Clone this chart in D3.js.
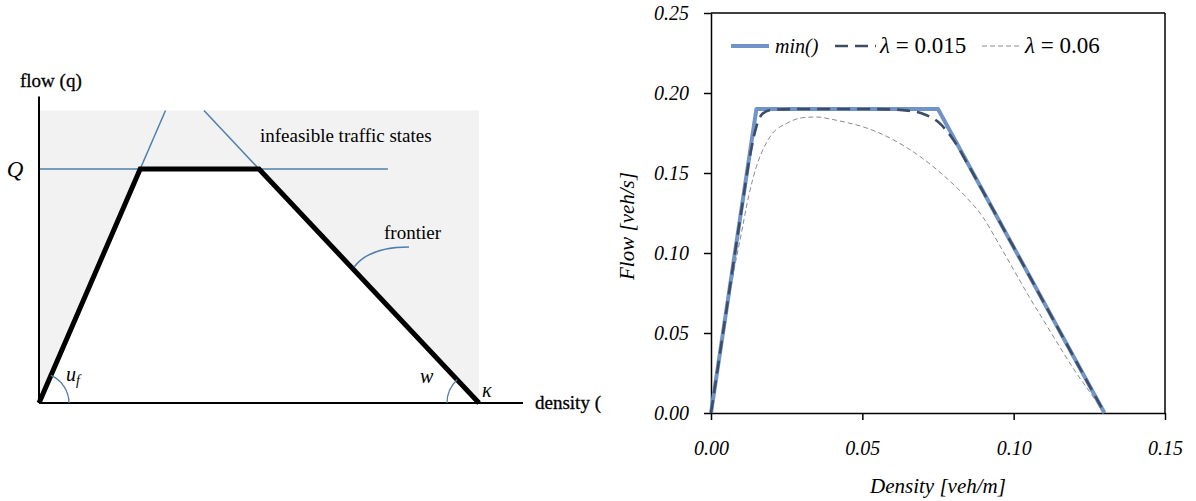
<!DOCTYPE html>
<html><head><meta charset="utf-8">
<script src="https://cdn.jsdelivr.net/npm/d3@7"></script>
<style>body{margin:0;background:#fff}svg{display:block}</style>
</head><body>
<script>
// ---- Left diagram (conceptual fundamental diagram) ----
const diagDensity = [0, 0.23, 0.5, 1.0];   // 0, critical start, critical end, jam density (kappa)
const diagFlow    = [0, 1.0, 1.0, 0];      // Q normalised to 1
const diagLabels  = {flowAxis: "flow (q)", densityAxis: "density (", Q: "Q", infeasible: "infeasible traffic states", frontier: "frontier", w: "w", kappa: "κ"};

// ---- Right chart data ----
const densMin = [0, 0.015, 0.075, 0.13];
const flowMin = [0, 0.19, 0.19, 0];
const dens015 = [0, 0.005, 0.01, 0.013, 0.015, 0.017, 0.02, 0.03, 0.05, 0.06, 0.065, 0.07, 0.075, 0.08, 0.085, 0.09, 0.1, 0.11, 0.12, 0.13];
const flow015 = [0, 0.063, 0.126, 0.162, 0.179, 0.187, 0.1895, 0.19, 0.19, 0.1897, 0.189, 0.187, 0.182, 0.171, 0.155, 0.138, 0.1036, 0.069, 0.0345, 0];
const dens06 = [0, 0.0025, 0.005, 0.0075, 0.01, 0.0125, 0.015, 0.0175, 0.02, 0.025, 0.03, 0.035, 0.04, 0.045, 0.05, 0.055, 0.06, 0.065, 0.07, 0.075, 0.08, 0.085, 0.09, 0.095, 0.1, 0.105, 0.11, 0.115, 0.12, 0.125, 0.13];
const flow06 = [0, 0.03, 0.06, 0.088, 0.112, 0.136, 0.154, 0.166, 0.174, 0.181, 0.1845, 0.185, 0.1835, 0.1815, 0.179, 0.1755, 0.171, 0.1655, 0.159, 0.1515, 0.143, 0.1335, 0.122, 0.106, 0.0895, 0.073, 0.0575, 0.042, 0.027, 0.0135, 0];
const xTicks = [0, 0.05, 0.10, 0.15];
const yTicks = [0, 0.05, 0.10, 0.15, 0.20, 0.25];
const seriesNames = ["min()", "λ = 0.015", "λ = 0.06"];

const W = 1196, H = 501;
const svg = d3.select("body").append("svg").attr("width", W).attr("height", H);
svg.append("rect").attr("width", W).attr("height", H).attr("fill", "#fff");

// ================= LEFT DIAGRAM =================
const lx = d3.scaleLinear().domain([0, 1]).range([39, 479]);
const ly = d3.scaleLinear().domain([0, 1]).range([403, 169]);
const L = svg.append("g");
const serif = "'Liberation Serif','Times New Roman',serif";
const blue = "#4f7fae";
const trap = diagDensity.map((d, i) => [d, diagFlow[i]]);
const lline = d3.line().x(d => lx(d[0])).y(d => ly(d[1]));

// gray infeasible region, white feasible trapezoid
L.append("rect").attr("x", lx(0)).attr("y", ly(1.25)).attr("width", lx(1) - lx(0)).attr("height", ly(0) - ly(1.25)).attr("fill", "#f2f2f2");
L.append("path").datum(trap).attr("d", lline).attr("fill", "#fff");

// blue constraint lines
const sFree = diagFlow[1] / diagDensity[1];
const sCong = diagFlow[2] / (diagDensity[3] - diagDensity[2]);
L.append("line").attr("x1", lx(0)).attr("x2", lx(0.793)).attr("y1", ly(1)).attr("y2", ly(1)).attr("stroke", blue).attr("stroke-width", 1.5);
L.append("line").attr("x1", lx(diagDensity[1] * 0.97)).attr("y1", ly(sFree * diagDensity[1] * 0.97))
  .attr("x2", lx(1.25 / sFree)).attr("y2", ly(1.25)).attr("stroke", blue).attr("stroke-width", 1.5);
L.append("line").attr("x1", lx(diagDensity[2] + 0.01)).attr("y1", ly(sCong * (diagDensity[3] - diagDensity[2] - 0.01)))
  .attr("x2", lx(diagDensity[3] - 1.25 / sCong)).attr("y2", ly(1.25)).attr("stroke", blue).attr("stroke-width", 1.5);

// axes
L.append("line").attr("x1", lx(0)).attr("x2", lx(0)).attr("y1", ly(0)).attr("y2", ly(1.31)).attr("stroke", "#000").attr("stroke-width", 2);
L.append("line").attr("x1", lx(0)).attr("x2", lx(1.1)).attr("y1", ly(0)).attr("y2", ly(0)).attr("stroke", "#000").attr("stroke-width", 2);

// black trapezoid frontier
L.append("path").datum(trap).attr("d", lline)
  .attr("fill", "none").attr("stroke", "#000").attr("stroke-width", 5).attr("stroke-linejoin", "miter");

// angle arcs
const a1 = Math.atan2(ly(0) - ly(diagFlow[1]), lx(diagDensity[1]) - lx(0));
const r1 = 30;
L.append("path").attr("d", `M${lx(0) + r1},${ly(0)} A${r1},${r1} 0 0 0 ${lx(0) + r1 * Math.cos(a1)},${ly(0) - r1 * Math.sin(a1)}`)
  .attr("fill", "none").attr("stroke", blue).attr("stroke-width", 1.3);
const a2 = Math.atan2(ly(0) - ly(diagFlow[2]), lx(diagDensity[3]) - lx(diagDensity[2]));
const r2 = 32;
L.append("path").attr("d", `M${lx(1) - r2},${ly(0)} A${r2},${r2} 0 0 1 ${lx(1) - r2 * Math.cos(a2)},${ly(0) - r2 * Math.sin(a2)}`)
  .attr("fill", "none").attr("stroke", blue).attr("stroke-width", 1.3);

// frontier leader
const fy = 267, fx = lx(diagDensity[3] - (ly.invert(fy)) / sCong);
L.append("path").attr("d", `M${fx + 3},${fy} Q${fx + 18},${247} ${409},${247}`).attr("fill", "none").attr("stroke", blue).attr("stroke-width", 1.5);

// labels
L.append("text").attr("x", 20).attr("y", 87).attr("font-family", serif).attr("font-size", 19).attr("stroke", "#000").attr("stroke-width", 0.3).text(diagLabels.flowAxis);
L.append("text").attr("x", 15).attr("y", 177).attr("text-anchor", "middle").attr("font-family", serif).attr("font-style", "italic").attr("font-size", 23).text(diagLabels.Q);
L.append("text").attr("x", 260).attr("y", 142).attr("font-family", serif).attr("font-size", 19).text(diagLabels.infeasible);
L.append("text").attr("x", 384).attr("y", 239).attr("font-family", serif).attr("font-size", 19).text(diagLabels.frontier);
const uf = L.append("text").attr("x", 66).attr("y", 381).attr("font-family", serif).attr("font-style", "italic").attr("font-size", 20);
uf.append("tspan").text("u");
uf.append("tspan").attr("font-size", 14).attr("dy", 4).text("f");
L.append("text").attr("x", 420).attr("y", 383).attr("font-family", serif).attr("font-style", "italic").attr("font-size", 20).text(diagLabels.w);
L.append("text").attr("x", 482).attr("y", 397).attr("font-family", serif).attr("font-style", "italic").attr("font-size", 20).text(diagLabels.kappa);
L.append("text").attr("x", 535).attr("y", 409).attr("font-family", serif).attr("font-size", 19).attr("stroke", "#000").attr("stroke-width", 0.3).text(diagLabels.densityAxis);

// ================= RIGHT CHART =================
const x = d3.scaleLinear().domain([0, 0.15]).range([711, 1165]);
const y = d3.scaleLinear().domain([0, 0.25]).range([413, 13]);
const R = svg.append("g");

// frame top & right
R.append("line").attr("x1", x(0)).attr("x2", x(0.15)).attr("y1", y(0.25)).attr("y2", y(0.25)).attr("stroke", "#000").attr("stroke-width", 1.5);
R.append("line").attr("x1", x(0.15)).attr("x2", x(0.15)).attr("y1", y(0.25)).attr("y2", y(0)).attr("stroke", "#000").attr("stroke-width", 1.5);

const ax = R.append("g").attr("transform", `translate(0,${y(0)})`)
  .call(d3.axisBottom(x).tickValues(xTicks).tickFormat(d3.format(".2f")).tickSize(7).tickSizeOuter(0));
const ay = R.append("g").attr("transform", `translate(${x(0)},0)`)
  .call(d3.axisLeft(y).tickValues(yTicks).tickFormat(d3.format(".2f")).tickSize(7).tickSizeOuter(0));
[ax, ay].forEach(g => {
  g.selectAll("path.domain").attr("stroke", "#000").attr("stroke-width", 1.5);
  g.selectAll(".tick line").attr("stroke", "#000").attr("stroke-width", 1.5);
  g.selectAll("text").attr("font-family", serif).attr("font-style", "italic").attr("font-size", 20).attr("fill", "#000");
});
ax.selectAll("text").attr("dy", null).attr("y", 42);
ay.selectAll("text").attr("x", -22).attr("dy", "0.33em");

R.append("text").attr("x", (x(0) + x(0.15)) / 2).attr("y", 493).attr("text-anchor", "middle")
  .attr("font-family", serif).attr("font-style", "italic").attr("font-size", 21).text("Density [veh/m]");
R.append("text").attr("transform", `translate(634,${226}) rotate(-90)`).attr("text-anchor", "middle")
  .attr("font-family", serif).attr("font-style", "italic").attr("font-size", 21).text("Flow [veh/s]");

const line = d3.line().x(d => x(d[0])).y(d => y(d[1]));
const styles = [
  {color: "#7094c8", width: 4, dash: null},
  {color: "#3d4d68", width: 2.6, dash: "13,7"},
  {color: "#8a8a8a", width: 1, dash: "5,3"}
];
const seriesData = [
  densMin.map((d, i) => [d, flowMin[i]]),
  dens015.map((d, i) => [d, flow015[i]]),
  dens06.map((d, i) => [d, flow06[i]])
];
// draw thin first, then min, then dashed on top
[2, 0, 1].forEach(i => {
  R.append("path").datum(seriesData[i]).attr("d", line.curve(i === 0 ? d3.curveLinear : d3.curveMonotoneX))
    .attr("fill", "none").attr("stroke", styles[i].color).attr("stroke-width", styles[i].width)
    .attr("stroke-dasharray", styles[i].dash).attr("stroke-linejoin", "round");
});

// legend
const legItems = [
  {x1: 731, x2: 769, tx: 775, italic: true, size: 20},
  {x1: 835, x2: 876, tx: 880, italic: false, size: 23},
  {x1: 982, x2: 1020, tx: 1025, italic: false, size: 23}
];
legItems.forEach((it, i) => {
  R.append("line").attr("x1", it.x1).attr("x2", it.x2).attr("y1", 46).attr("y2", 46)
    .attr("stroke", styles[i].color).attr("stroke-width", styles[i].width).attr("stroke-dasharray", styles[i].dash);
  const t = R.append("text").attr("x", it.tx).attr("y", 53).attr("font-family", serif).attr("font-size", it.size);
  if (it.italic) t.attr("font-style", "italic").text(seriesNames[i]);
  else {
    const parts = seriesNames[i].split(" ");
    t.append("tspan").attr("font-style", "italic").text(parts[0]);
    t.append("tspan").text(" " + parts.slice(1).join(" "));
  }
});
</script>
</body></html>
